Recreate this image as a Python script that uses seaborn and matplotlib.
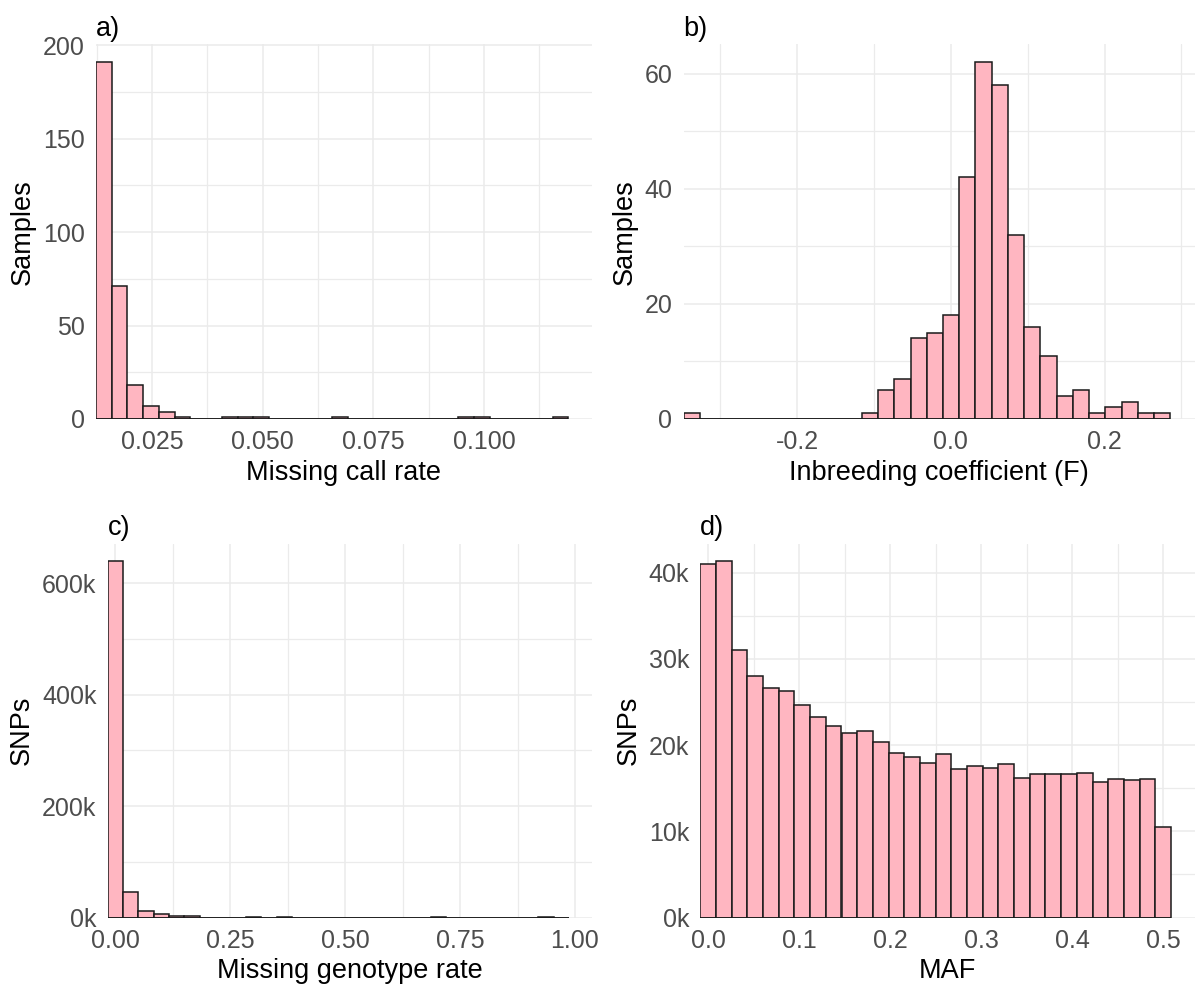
import numpy as np
import pandas as pd
import matplotlib
matplotlib.use("Agg")
import matplotlib.pyplot as plt
import seaborn as sns

# ---- a) per-sample missing call rate, 30 bins ----
call_rate_bin_start = 0.01234
call_rate_bin_width = 0.003557
call_rate_counts = [191, 71, 18, 7, 4, 1, 0, 0, 1, 1, 1, 0, 0, 0, 0,
                    1, 0, 0, 0, 0, 0, 0, 0, 1, 1, 0, 0, 0, 0, 1]
call_rate_ticks = [0.025, 0.050, 0.075, 0.100]
call_rate_tick_labels = ["0.025", "0.050", "0.075", "0.100"]
samples_ticks_a = [0, 50, 100, 150, 200]

# ---- b) inbreeding coefficient, 30 bins ----
inbreeding_bin_start = -0.348
inbreeding_bin_width = 0.02111
inbreeding_counts = [1, 0, 0, 0, 0, 0, 0, 0, 0, 0, 0, 1, 5, 7, 14,
                     15, 18, 42, 62, 58, 32, 16, 11, 4, 5, 1, 2, 3, 1, 1]
inbreeding_ticks = [-0.2, 0.0, 0.2]
inbreeding_tick_labels = ["-0.2", "0.0", "0.2"]
samples_ticks_b = [0, 20, 40, 60]

# ---- c) per-SNP missing genotype rate, 30 bins ----
geno_rate_bin_start = -0.0167
geno_rate_bin_width = 0.03345
geno_rate_counts = [639200, 46000, 12000, 5400, 2400, 1800, 0, 0, 0, 1200,
                    0, 1500, 0, 0, 0, 0, 0, 0, 0, 0,
                    0, 1000, 0, 0, 0, 0, 0, 0, 1200, 0]
geno_rate_ticks = [0.0, 0.25, 0.5, 0.75, 1.0]
geno_rate_tick_labels = ["0.00", "0.25", "0.50", "0.75", "1.00"]
snp_ticks_c = [0, 200000, 400000, 600000]

# ---- d) minor allele frequency, 30 bins ----
maf_bin_start = -0.00862
maf_bin_width = 0.01724
maf_counts = [41000, 41300, 31000, 28000, 26600, 26300, 24600, 23200, 22200, 21400,
              21600, 20300, 19100, 18600, 17950, 18900, 17200, 17600, 17300, 17800,
              16200, 16600, 16600, 16600, 16700, 15750, 16100, 15900, 16100, 10500]
maf_ticks = [0.0, 0.1, 0.2, 0.3, 0.4, 0.5]
maf_tick_labels = ["0.0", "0.1", "0.2", "0.3", "0.4", "0.5"]
snp_ticks_d = [0, 10000, 20000, 30000, 40000]

sns.set_style("white")
plt.rcParams["font.family"] = ["Liberation Sans", "DejaVu Sans"]

FILL = "#FFB6C1"
EDGE = "#1A1A1A"
GRID = "#EBEBEB"
TICK_COLOR = "#4D4D4D"

W, H = 1196, 990
fig = plt.figure(figsize=(W / 100, H / 100), dpi=100)


def add_axes(left, right, top, bottom):
    return fig.add_axes([left / W, 1 - bottom / H, (right - left) / W, (bottom - top) / H])


def k_labels(values):
    return [f"{int(round(v / 1000))}k" for v in values]


def histogram_panel(ax, start, width, counts, xticks, xlabels, yticks, ylabels,
                    xlabel, ylabel, tag):
    n = len(counts)
    lo, hi = start, start + width * n
    centers = start + width * (np.arange(n) + 0.5)
    df = pd.DataFrame({"value": centers, "count": counts})
    sns.histplot(data=df, x="value", weights="count", bins=n, binrange=(lo, hi),
                 ax=ax, color=FILL, alpha=1, edgecolor=EDGE, linewidth=1.1)
    # empty bins still show their outline along the baseline
    ax.plot([lo, hi], [0, 0], color=EDGE, linewidth=1.1,
            solid_capstyle="butt", zorder=3)

    xmax = hi + 0.05 * (hi - lo)
    ymax = max(counts) * 1.05

    xstep = xticks[1] - xticks[0]
    ystep = yticks[1] - yticks[0]
    xminor = np.arange(xticks[0] - xstep / 2, xmax, xstep)
    xminor = xminor[(xminor > lo) & (xminor < xmax)]
    yminor = np.arange(ystep / 2, ymax, ystep)
    ax.set_xticks(xticks)
    ax.set_xticklabels(xlabels)
    ax.set_xticks(xminor, minor=True)
    ax.set_yticks(yticks)
    ax.set_yticklabels(ylabels)
    ax.set_yticks(yminor, minor=True)
    ax.set_xlim(lo, xmax)
    ax.set_ylim(0, ymax)

    ax.grid(which="major", color=GRID, linewidth=1.1)
    ax.grid(which="minor", color=GRID, linewidth=0.9)
    ax.set_axisbelow(True)
    for s in ax.spines.values():
        s.set_visible(False)
    ax.tick_params(which="both", length=0, labelsize=18, labelcolor=TICK_COLOR, pad=8)

    ax.set_xlabel(xlabel, fontsize=19.5, color="black", labelpad=4)
    ax.set_ylabel(ylabel, fontsize=19.5, color="black", labelpad=5)
    ax.set_title(tag, loc="left", fontsize=19.5, color="black", pad=6)


ax_a = add_axes(95.8, 592, 44.3, 419)
histogram_panel(ax_a, call_rate_bin_start, call_rate_bin_width, call_rate_counts,
                call_rate_ticks, call_rate_tick_labels,
                samples_ticks_a, [str(v) for v in samples_ticks_a],
                "Missing call rate", "Samples", "a)")

ax_b = add_axes(683.5, 1194.5, 44.3, 419)
histogram_panel(ax_b, inbreeding_bin_start, inbreeding_bin_width, inbreeding_counts,
                inbreeding_ticks, inbreeding_tick_labels,
                samples_ticks_b, [str(v) for v in samples_ticks_b],
                "Inbreeding coefficient (F)", "Samples", "b)")

ax_c = add_axes(107.5, 592, 543.5, 917.5)
histogram_panel(ax_c, geno_rate_bin_start, geno_rate_bin_width, geno_rate_counts,
                geno_rate_ticks, geno_rate_tick_labels,
                snp_ticks_c, k_labels(snp_ticks_c),
                "Missing genotype rate", "SNPs", "c)")

ax_d = add_axes(700.3, 1194.5, 543.5, 917.5)
histogram_panel(ax_d, maf_bin_start, maf_bin_width, maf_counts,
                maf_ticks, maf_tick_labels,
                snp_ticks_d, k_labels(snp_ticks_d),
                "MAF", "SNPs", "d)")

fig.savefig("out.png", dpi=100, facecolor="white")
